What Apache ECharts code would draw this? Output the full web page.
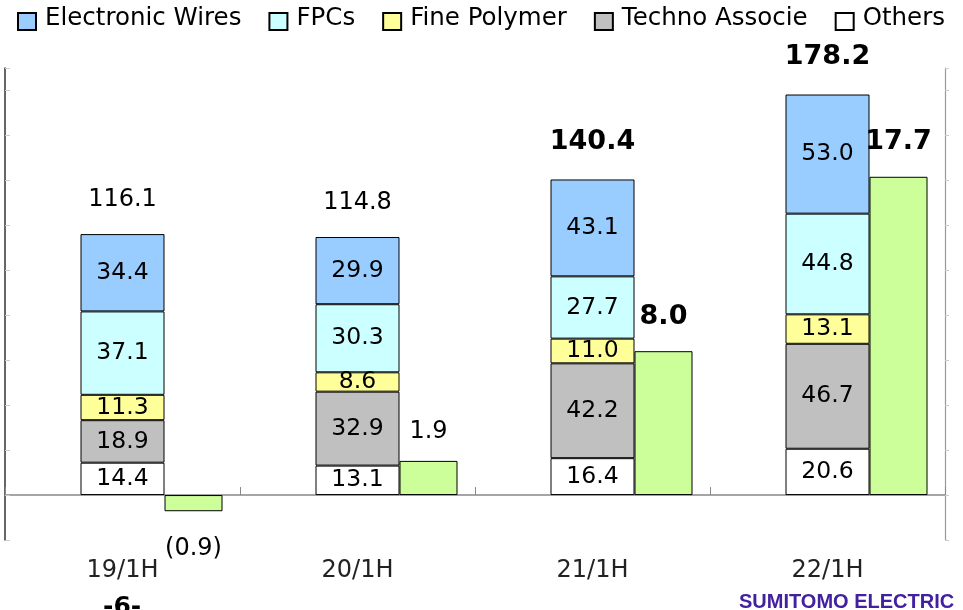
<!DOCTYPE html>
<html>
<head>
<meta charset="utf-8">
<script src="https://cdn.jsdelivr.net/npm/echarts@6/dist/echarts.min.js"></script>
<style>
  html, body { margin: 0; padding: 0; background: #fff; }
  #main { width: 963px; height: 610px; }
</style>
</head>
<body>
<div id="main"></div>
<script>
// 半期ごとの売上内訳と営業利益
var periods = ['19/1H', '20/1H', '21/1H', '22/1H'];
var electronicWires = [34.4, 29.9, 43.1, 53.0];
var fpcs = [37.1, 30.3, 27.7, 44.8];
var finePolymer = [11.3, 8.6, 11.0, 13.1];
var technoAssocie = [18.9, 32.9, 42.2, 46.7];
var others = [14.4, 13.1, 16.4, 20.6];
var salesTotal = [116.1, 114.8, 140.4, 178.2];
var operatingIncome = [-0.9, 1.9, 8.0, 17.7];
var legendNames = ['Electronic Wires', 'FPCs', 'Fine Polymer', 'Techno Associe', 'Others'];

var FONT = 'DejaVu Sans';

var myChart = echarts.init(document.getElementById('main'));

function segment(name, values, color) {
    return {
        name: name,
        type: 'bar',
        stack: 'sales',
        yAxisIndex: 0,
        barWidth: 84,
        barGap: '0%',
        data: values,
        itemStyle: { color: color, borderColor: '#000', borderWidth: 1 },
        label: {
            show: true,
            position: 'inside',
            color: '#000',
            fontFamily: FONT,
            fontSize: 23.5,
            formatter: function (p) { return p.value.toFixed(1); }
        }
    };
}

// 合計ラベル（後半2期は太字）
var totalData = [];
for (var i = 0; i < salesTotal.length; i++) {
    totalData.push({
        value: 0,
        label: {
            fontWeight: i >= 2 ? 'bold' : 'normal',
            fontSize: i >= 2 ? 27 : 24,
            distance: i >= 2 ? 24 : 22
        }
    });
}

// 営業利益（マイナスは括弧付き）
var incomeData = [];
for (var i = 0; i < operatingIncome.length; i++) {
    var v = operatingIncome[i];
    incomeData.push({
        value: v,
        label: {
            position: v < 0 ? 'bottom' : 'top',
            distance: v < 0 ? 26 : (i >= 2 ? 21 : 17),
            fontWeight: i >= 2 ? 'bold' : 'normal',
            fontSize: i >= 2 ? 27 : 24
        }
    });
}

var option = {
    animation: false,
    backgroundColor: '#fff',
    legend: {
        left: 17,
        top: 6,
        padding: 0,
        icon: 'rect',
        itemWidth: 18,
        itemHeight: 17,
        itemGap: 27,
        selectedMode: false,
        data: legendNames,
        formatter: '{t|{name}}',
        textStyle: {
            rich: {
                // 文字をアイコンより少し上に
                t: {
                    fontFamily: FONT,
                    fontSize: 24.5,
                    color: '#000',
                    lineHeight: 31,
                    verticalAlign: 'top',
                    padding: [0, 0, 0, 4]
                }
            }
        }
    },
    grid: { left: 5, right: 18, top: 68, bottom: 70, outerBoundsMode: 'none' },
    xAxis: {
        type: 'category',
        data: periods,
        axisLine: { onZero: true, lineStyle: { color: '#888', width: 1.5 } },
        axisTick: { show: true, inside: true, length: 8, interval: 0, lineStyle: { color: '#888' } },
        axisLabel: { margin: 19, fontFamily: FONT, fontSize: 24, color: '#222' },
        splitLine: { show: false }
    },
    yAxis: [{
        type: 'value',
        position: 'left',
        min: -20,
        max: 190,
        interval: 20,
        axisLine: { show: true, lineStyle: { color: '#333', width: 1.5 } },
        axisTick: { show: true, inside: true, length: 5, lineStyle: { color: '#ccc' } },
        axisLabel: { show: false },
        splitLine: { show: false }
    }, {
        type: 'value',
        position: 'right',
        min: -2.5,
        max: 23.75,
        interval: 2.5,
        axisLine: { show: true, lineStyle: { color: '#999', width: 1.2 } },
        axisTick: { show: true, inside: false, length: 4, lineStyle: { color: '#ccc' } },
        axisLabel: { show: false },
        splitLine: { show: false }
    }],
    series: [
        {
            // 左側の余白用（棒を中央に置くため）
            name: 'spacer',
            type: 'bar',
            yAxisIndex: 0,
            barWidth: 58,
            barGap: '0%',
            silent: true,
            data: ['-', '-', '-', '-']
        },
        segment('Others', others, '#ffffff'),
        segment('Techno Associe', technoAssocie, '#c0c0c0'),
        segment('Fine Polymer', finePolymer, '#ffff99'),
        segment('FPCs', fpcs, '#ccffff'),
        segment('Electronic Wires', electronicWires, '#99ccff'),
        {
            name: 'total',
            type: 'bar',
            stack: 'sales',
            yAxisIndex: 0,
            silent: true,
            data: totalData,
            itemStyle: { color: 'transparent', borderWidth: 0 },
            label: {
                show: true,
                position: 'top',
                color: '#000',
                fontFamily: FONT,
                formatter: function (p) { return salesTotal[p.dataIndex].toFixed(1); }
            }
        },
        {
            name: 'Operating Income',
            type: 'bar',
            yAxisIndex: 1,
            barWidth: 58,
            barGap: '0%',
            data: incomeData,
            itemStyle: { color: '#ccff99', borderColor: '#000', borderWidth: 1 },
            label: {
                show: true,
                color: '#000',
                fontFamily: FONT,
                formatter: function (p) {
                    var v = p.value;
                    return v < 0 ? '(' + Math.abs(v).toFixed(1) + ')' : v.toFixed(1);
                }
            }
        }
    ],
    graphic: [{
        type: 'text',
        left: 103,
        top: 595,
        style: { text: '-6-', font: 'bold 25px "DejaVu Sans"', fill: '#000' }
    }, {
        type: 'text',
        left: 739,
        top: 592,
        style: { text: 'SUMITOMO ELECTRIC', font: 'bold 20px "Liberation Sans"', fill: '#42209f' }
    }]
};

myChart.setOption(option);
</script>
</body>
</html>
